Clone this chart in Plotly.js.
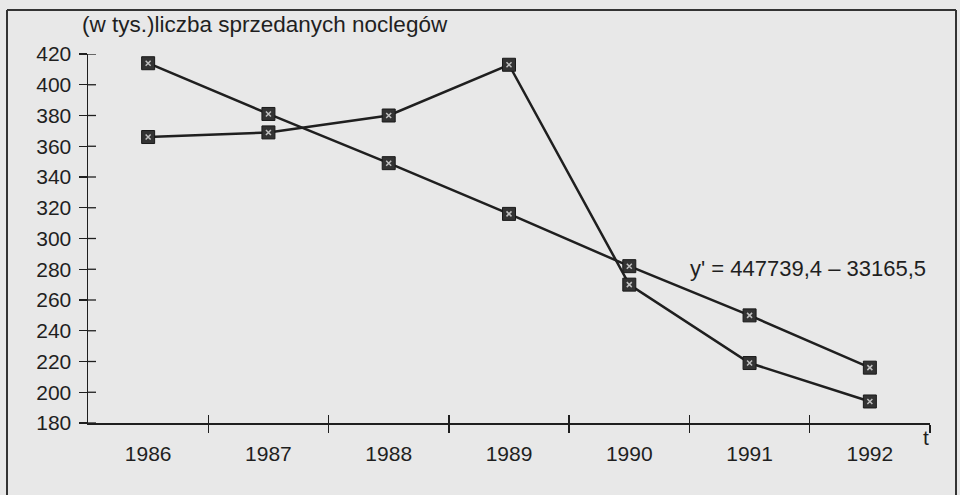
<!DOCTYPE html>
<html>
<head>
<meta charset="utf-8">
<script src="https://cdn.plot.ly/plotly-3.0.1.min.js"></script>
<style>html,body{margin:0;padding:0;background:#e8e8e8;}#chart{width:960px;height:495px;}</style>
</head>
<body>
<div id="chart"></div>
<script>
// Data
const years = [1986, 1987, 1988, 1989, 1990, 1991, 1992];
const actualNights = [366, 369, 380, 413, 270, 219, 194];   // thousands
const trendNights = [414, 381, 349, 316, 282, 250, 216];    // thousands (linear trend)
const yTicks = [180, 200, 220, 240, 260, 280, 300, 320, 340, 360, 380, 400, 420];
const yTickLabels = yTicks.map(String);
const yearLabels = years.map(String);
const boundaryTicks = [1986.5, 1987.5, 1988.5, 1989.5, 1990.5, 1991.5, 1992.5];

const titleText = "(w tys.)liczba sprzedanych noclegów";
const equationText = "y' = 447739,4 \u2013 33165,5";

const ink = "#1f1f1f";
const fam = "Liberation Sans, Arial, sans-serif";
const tickFont = {family: fam, size: 21, color: ink};

function lineTrace(y) {
  return {x: years, y: y, type: "scatter", mode: "lines+markers",
    line: {color: ink, width: 2.5},
    marker: {symbol: "square", size: 13, color: "#333333", line: {color: "#1a1a1a", width: 1}},
    hoverinfo: "x+y", showlegend: false, cliponaxis: false};
}
function dotTrace(y) {
  return {x: years, y: y, type: "scatter", mode: "markers",
    marker: {symbol: "x-thin-open", size: 5, color: "#c0c0c0", line: {color: "#c0c0c0", width: 1.5}},
    hoverinfo: "skip", showlegend: false, cliponaxis: false};
}
function ghost(xa, ya) {
  return {x: [years[0]], y: [yTicks[0]], xaxis: xa, yaxis: ya, mode: "markers",
    marker: {opacity: 0}, hoverinfo: "skip", showlegend: false};
}

const traces = [lineTrace(trendNights), lineTrace(actualNights), dotTrace(trendNights), dotTrace(actualNights),
  ghost("x2", "y"), ghost("x3", "y")];

// pixel geometry helpers for frame
const L = 88, R = 30, T = 54, B = 72, W = 960, H = 495;
const pw = W - L - R, ph = H - T - B;
const px = v => (v - L) / pw;
const py = v => (H - B - v) / ph;

// inner halves of the crossing y-axis ticks
const yInnerTicks = yTicks.map(v => ({type: "line", xref: "paper", yref: "y", x0: 0, x1: 8 / pw, y0: v, y1: v,
  line: {color: ink, width: 1.3}}));

const baseX = {range: [1985.5, 1992.5], showgrid: false, zeroline: false, fixedrange: true};
const layout = {
  width: W, height: H,
  margin: {l: L, r: R, t: T, b: B, pad: 0},
  paper_bgcolor: "#e8e8e8", plot_bgcolor: "rgba(0,0,0,0)",
  font: tickFont,
  xaxis: Object.assign({}, baseX, {
    showline: true, linecolor: ink, linewidth: 1.5,
    tickmode: "array", tickvals: boundaryTicks, ticktext: boundaryTicks.map(() => ""),
    ticks: "outside", ticklen: 8, tickwidth: 1.3, tickcolor: ink}),
  xaxis2: Object.assign({}, baseX, {overlaying: "x", anchor: "y", side: "bottom", showline: false,
    tickmode: "array", tickvals: years, ticktext: yearLabels,
    ticks: "outside", ticklen: 12, tickcolor: "rgba(0,0,0,0)", tickfont: tickFont}),
  xaxis3: Object.assign({}, baseX, {overlaying: "x", anchor: "y", side: "bottom", showline: false, showticklabels: false,
    tickmode: "array", tickvals: boundaryTicks, ticks: "inside", ticklen: 8, tickwidth: 1.3, tickcolor: ink}),
  yaxis: {range: [180, 420], showgrid: false, zeroline: false,
    showline: true, linecolor: ink, linewidth: 1.5,
    tickmode: "array", tickvals: yTicks, ticktext: yTickLabels,
    ticks: "outside", ticklen: 8, tickwidth: 1.3, tickcolor: ink, tickfont: tickFont, ticklabelstandoff: 3, fixedrange: true},
  shapes: [
    {type: "line", xref: "paper", yref: "paper", x0: px(7), x1: px(956), y0: py(10), y1: py(10), line: {color: "#333", width: 2}},
    {type: "line", xref: "paper", yref: "paper", x0: px(7), x1: px(7), y0: py(10), y1: py(500), line: {color: "#333", width: 2}},
    {type: "line", xref: "paper", yref: "paper", x0: px(956), x1: px(956), y0: py(10), y1: py(500), line: {color: "#333", width: 2}}
  ].concat(yInnerTicks),
  annotations: [
    {text: titleText, xref: "paper", yref: "paper", x: px(80), y: py(25), xanchor: "left", yanchor: "middle", showarrow: false, font: {family: fam, size: 22.5, color: ink}},
    {text: equationText, xref: "paper", yref: "paper", x: px(688), y: py(268), xanchor: "left", yanchor: "middle", showarrow: false, font: {family: fam, size: 22, color: ink}},
    {text: "t", xref: "paper", yref: "paper", x: px(926), y: py(437), xanchor: "center", yanchor: "middle", showarrow: false, font: {family: fam, size: 21, color: ink}}
  ]
};

Plotly.newPlot("chart", traces, layout, {displayModeBar: false, staticPlot: true});
</script>
</body>
</html>
